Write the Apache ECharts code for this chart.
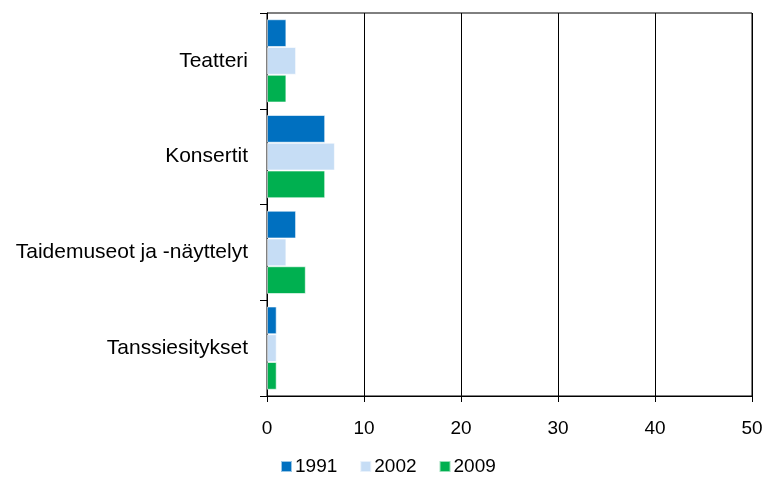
<!DOCTYPE html>
<html>
<head>
<meta charset="utf-8">
<script src="https://cdn.jsdelivr.net/npm/echarts@6/dist/echarts.min.js"></script>
<style>
  html, body { margin: 0; padding: 0; background: #fff; }
  #chart { width: 767px; height: 482px; }
</style>
</head>
<body>
<div id="chart"></div>
<script>
// data
const categories = ['Teatteri', 'Konsertit', 'Taidemuseot ja -näyttelyt', 'Tanssiesitykset'];
const values1991 = [2, 6, 3, 1];
const values2002 = [3, 7, 2, 1];
const values2009 = [2, 6, 4, 1];
const xTicks = [0, 10, 20, 30, 40, 50];

const font = 'Liberation Sans, Arial, sans-serif';

const chart = echarts.init(document.getElementById('chart'));

const makeSeries = (name, data, color) => ({
  name: name,
  type: 'bar',
  data: data,
  barGap: '0%',
  barCategoryGap: '13%',
  itemStyle: {
    color: color,
    borderColor: 'rgba(255,255,255,0.6)',
    borderWidth: 1
  }
});

chart.setOption({
  backgroundColor: '#fff',
  animation: false,
  grid: {
    left: 267,
    right: 15,
    top: 13,
    bottom: 86,
    show: true,
    borderColor: '#000',
    borderWidth: 1
  },
  legend: {
    bottom: 1,
    left: 275,
    itemWidth: 11,
    itemHeight: 11,
    itemGap: 22,
    icon: 'rect',
    textStyle: { fontFamily: font, fontSize: 19, color: '#000', padding: [0, 0, 0, -2] },
    data: ['1991', '2002', '2009']
  },
  xAxis: {
    type: 'value',
    min: xTicks[0],
    max: xTicks[xTicks.length - 1],
    interval: 10,
    axisLine: { show: true, lineStyle: { color: '#000', width: 1 } },
    axisTick: { show: true, length: 6, lineStyle: { color: '#000' } },
    axisLabel: { fontFamily: font, fontSize: 19, color: '#000', margin: 23 },
    splitLine: { show: true, lineStyle: { color: '#000', width: 1 } }
  },
  yAxis: {
    type: 'category',
    inverse: true,
    data: categories,
    axisLine: { show: true, lineStyle: { color: '#000', width: 1 } },
    axisTick: { show: true, length: 7, lineStyle: { color: '#000' } },
    axisLabel: { fontFamily: font, fontSize: 21, color: '#000', margin: 19 }
  },
  series: [
    makeSeries('1991', values1991, '#0070C0'),
    makeSeries('2002', values2002, '#C6DDF5'),
    makeSeries('2009', values2009, '#00B050')
  ]
});
</script>
</body>
</html>
